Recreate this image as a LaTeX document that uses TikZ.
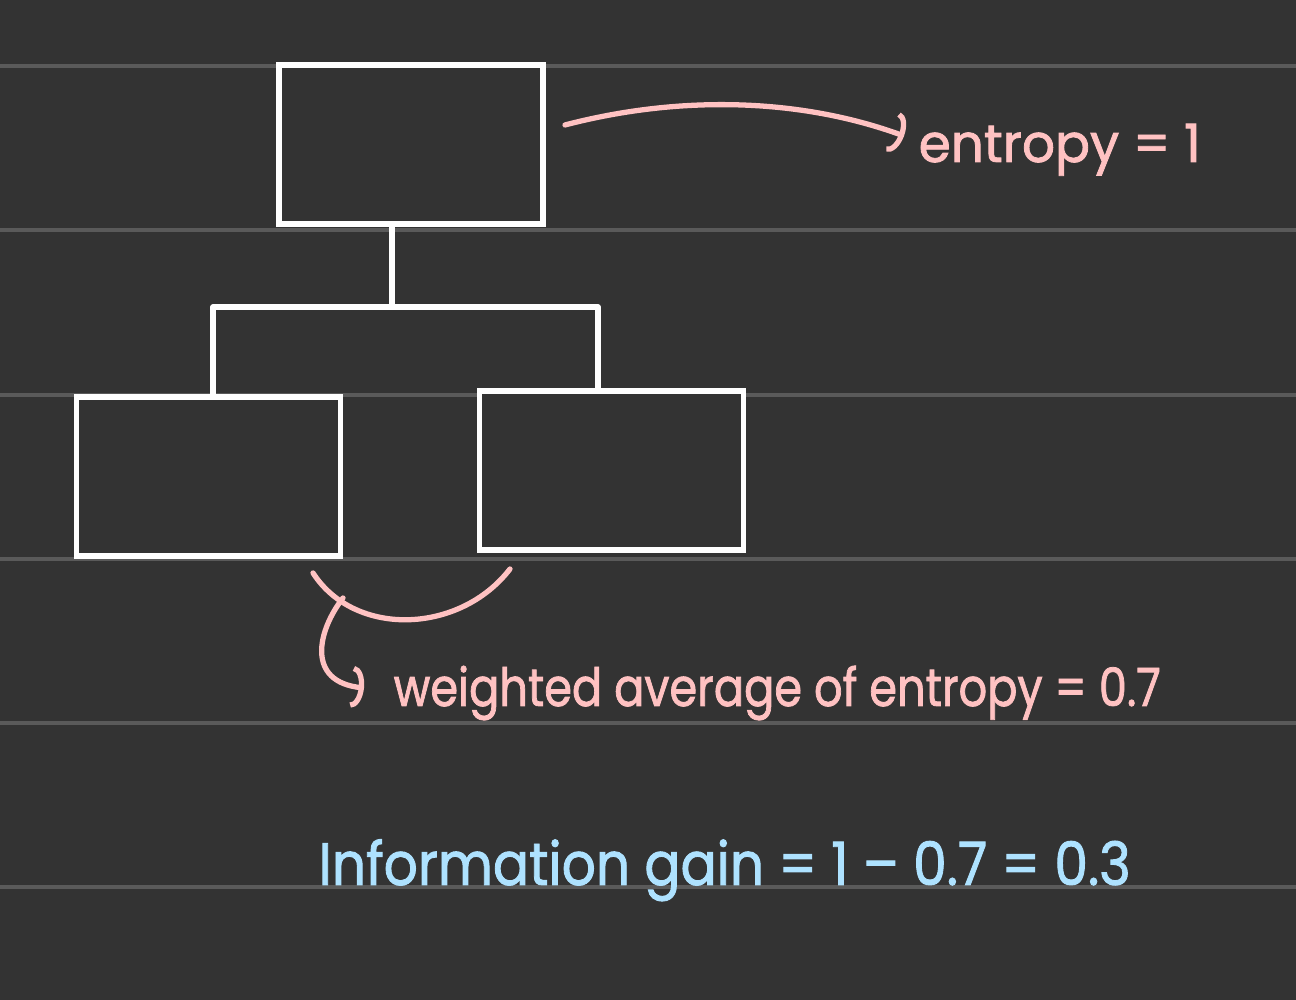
\documentclass[tikz,border=0pt]{standalone}
\usepackage{fontspec}
\setmainfont{Poppins}
\newfontfamily\handfont{Poppins}[FakeBold=1.6]
\usetikzlibrary{arrows.meta}
\definecolor{bgc}{HTML}{333333}
\definecolor{rulec}{HTML}{5A5A5A}
\definecolor{pinkc}{HTML}{FFC2C2}
\definecolor{bluec}{HTML}{AEE2FF}
\tikzset{
  rulestyle/.style={rulec, line width=0.9pt},
  treebox/.style={draw=white, line width=1.45pt, minimum width=2.64cm, minimum height=1.59cm, inner sep=0pt, fill=bgc},
  treeline/.style={white, line width=1.45pt, line join=round},
  pinkline/.style={pinkc, line width=1.5pt, line cap=round},
  pinktip/.style={-{Arc Barb[length=1.2mm, width=4.2mm, line width=1.5pt]}},
  pinktext/.style={text=pinkc, anchor=base west, inner sep=0pt, font=\handfont\fontsize{15}{18}\selectfont},
  bluetext/.style={text=bluec, anchor=base west, inner sep=0pt, font=\handfont\fontsize{17}{20}\selectfont},
}
\begin{document}
\begin{tikzpicture}
\fill[bgc] (0,0) rectangle (12.96,10);
\useasboundingbox (0,0) rectangle (12.96,10);
% ruled lines
\foreach \y in {9.34,7.70,6.05,4.41,2.77,1.13}
  \draw[rulestyle] (0,\y) -- (12.96,\y);
% boxes
\node[treebox] (top) at (4.11,8.555) {};
\node[treebox] (left) at (2.085,5.235) {};
\node[treebox] (right) at (6.115,5.295) {};
% tree connectors
\coordinate (jm) at (3.92,6.93);
\coordinate (jl) at (2.13,6.93);
\coordinate (jr) at (5.98,6.93);
\draw[treeline] (top.south -| jm) -- (jm);
\draw[treeline] (left.north -| jl) -- (jl) -- (jr) -- (right.north -| jr);
% texts
\node[pinktext] (ent) at (9.18,8.38) {\resizebox{2.82cm}{\height}{entropy = 1}};
\node[pinktext] (wavg) at (3.93,2.94) {\resizebox{7.67cm}{\height}{weighted average of entropy = 0.7}};
\node[bluetext] (gain) at (3.18,1.15) {\resizebox{8.12cm}{\height}{Information gain = 1 – 0.7 = 0.3}};
% top arrow
\coordinate (a0) at (5.65,8.75);
\coordinate (a1) at (9.04,8.64);
\draw[pinkline, pinktip] (a0) .. controls (6.8,9.05) and (8.0,9.02) .. (a1);
% brace arc under children
\coordinate (b0) at (3.13,4.27);
\coordinate (b1) at (5.10,4.31);
\draw[pinkline] (b0) .. controls (3.55,3.62) and (4.60,3.66) .. (b1);
% hook arrow
\coordinate (h0) at (3.43,4.02);
\coordinate (h1) at (3.64,3.12);
\draw[pinkline, pinktip] (h0) .. controls (3.18,3.70) and (3.05,3.18) .. (h1);
\end{tikzpicture}
\end{document}
